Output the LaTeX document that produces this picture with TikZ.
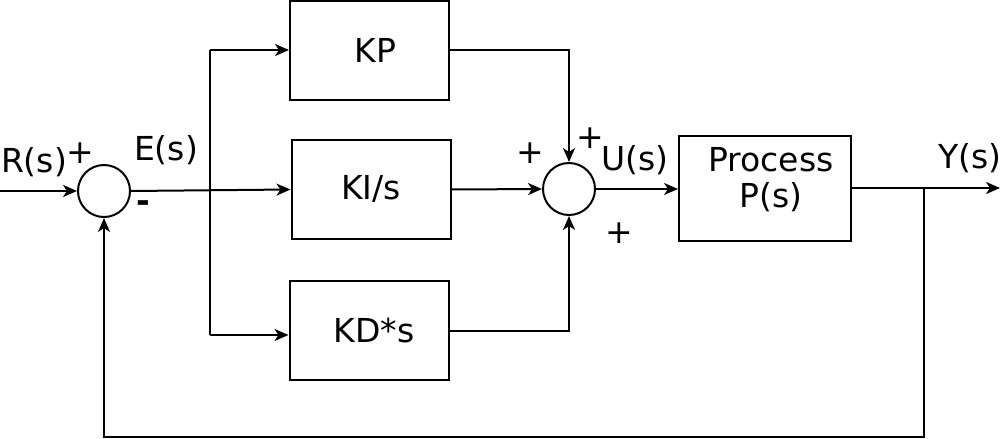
\documentclass[tikz,border=0pt]{standalone}
\usepackage{fontspec}
\setmainfont{DejaVu Sans}
\usetikzlibrary{arrows.meta}
\tikzset{
    box/.style={draw, line width=1pt, minimum width=79.5pt, minimum height=49.5pt, inner sep=0pt},
    sumnode/.style={draw, circle, line width=1pt, minimum size=26pt, inner sep=0pt},
    lbl/.style={inner sep=0pt},
    >={Stealth[length=7pt, width=6pt, inset=2pt]}
}
\begin{document}
\begin{tikzpicture}[x=0.5pt, y=-0.5pt, line width=1pt, font=\fontsize{16.5}{18}\selectfont]
    \useasboundingbox (0,0) rectangle (1004,438);

    % Summing junctions
    \node[sumnode] (sum1) at (104,191) {};
    \node[sumnode] (sum2) at (569,189) {};

    % Blocks
    \node[box] (kp) at (369.5,50.5) {\hspace{6pt}KP};
    \node[box] (ki) at (371,189.5) {KI/s};
    \node[box] (kd) at (369,330.5) {\hspace{5pt}KD*s};
    \node[box, minimum width=86pt, minimum height=52.5pt,
          label={[lbl, align=center, xshift=3pt, yshift=4.5pt]center:Process\\P(s)}] (proc) at (765,188.5) {};

    % Branch and end points
    \coordinate (in) at (0,191);
    \coordinate (bt) at (210,50);
    \coordinate (bb) at (210,335);
    \coordinate (out) at (1000,188);
    \coordinate (fb) at (924,188);
    \coordinate (fbd) at (924,437);

    % Forward path
    \draw[->] (in) -- (sum1.west);
    \draw[->] (sum1.east) -- (ki.west);
    \draw (bt) -- (bb);
    \draw[->] (bt) -- (kp.west |- bt);
    \draw[->] (bb) -- (kd.west |- bb);
    \draw[->] (kp.east) -| (sum2.north);
    \draw[->] (ki.east) -- (sum2.west);
    \draw[->] (kd.east) -| (sum2.south);
    \draw[->] (sum2.east) -- (proc.west |- sum2);
    \draw[->] (proc.east |- out) -- (out);

    % Feedback path
    \draw[->] (fb) -- (fbd) -| (sum1.south);

    % Signal labels
    \node[lbl] (rs) at (34,162) {R(s)};
    \node[lbl] (es) at (166,150) {E(s)};
    \node[lbl] (us) at (635,160) {U(s)};
    \node[lbl] (ys) at (970,158) {Y(s)};

    % Signs
    \node[lbl] (p1) at (80,153) {+};
    \node[lbl] (m1) at (143,207) {\textbf{-}};
    \node[lbl] (p2) at (530,153) {+};
    \node[lbl] (p3) at (590,138) {+};
    \node[lbl] (p4) at (619,233) {+};
\end{tikzpicture}
\end{document}
